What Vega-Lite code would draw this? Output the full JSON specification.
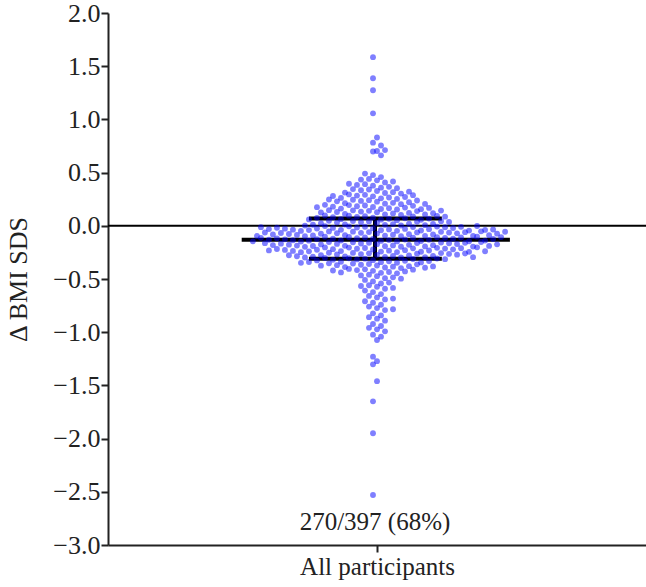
{
  "$schema": "https://vega.github.io/schema/vega-lite/v6.json",
  "width": 538,
  "height": 532,
  "autosize": "none",
  "padding": {"left": 108, "top": 13, "right": 0, "bottom": 42},
  "background": "white",
  "config": {"view": {"stroke": null}, "font": "Liberation Serif"},
  "datasets": {
    "points": [
      {"v":1.585},{"v":1.387},{"v":1.274},{"v":1.057},{"v":0.830},{"v":0.781},{"v":0.755},{"v":0.703},{"v":0.698},{"v":0.712},{"v":0.662},
      {"v":0.477},{"v":0.458},{"v":0.491},
      {"v":0.427},{"v":0.408},{"v":0.441},{"v":0.416},{"v":0.434},
      {"v":0.377},{"v":0.358},{"v":0.391},{"v":0.366},{"v":0.384},{"v":0.353},{"v":0.395},
      {"v":0.327},{"v":0.308},{"v":0.341},{"v":0.316},{"v":0.334},{"v":0.303},{"v":0.345},{"v":0.321},{"v":0.312},
      {"v":0.277},{"v":0.258},{"v":0.291},{"v":0.266},{"v":0.284},{"v":0.253},{"v":0.295},{"v":0.271},{"v":0.262},{"v":0.288},{"v":0.280},
      {"v":0.227},{"v":0.208},{"v":0.241},{"v":0.216},{"v":0.234},{"v":0.203},{"v":0.245},{"v":0.221},{"v":0.212},{"v":0.238},{"v":0.230},{"v":0.206},{"v":0.247},
      {"v":0.177},{"v":0.158},{"v":0.191},{"v":0.166},{"v":0.184},{"v":0.153},{"v":0.195},{"v":0.171},{"v":0.162},{"v":0.188},{"v":0.180},{"v":0.156},{"v":0.197},{"v":0.168},{"v":0.175},
      {"v":0.127},{"v":0.108},{"v":0.141},{"v":0.116},{"v":0.134},{"v":0.103},{"v":0.145},{"v":0.121},{"v":0.112},{"v":0.138},{"v":0.130},{"v":0.106},{"v":0.147},{"v":0.118},{"v":0.125},{"v":0.143},
      {"v":0.077},{"v":0.058},{"v":0.091},{"v":0.066},{"v":0.084},{"v":0.053},{"v":0.095},{"v":0.071},{"v":0.062},{"v":0.088},{"v":0.080},{"v":0.056},{"v":0.097},{"v":0.068},{"v":0.075},{"v":0.093},{"v":0.060},{"v":0.086},
      {"v":0.027},{"v":0.008},{"v":0.041},{"v":0.016},{"v":0.034},{"v":0.003},{"v":0.045},{"v":0.021},{"v":0.012},{"v":0.038},{"v":0.030},{"v":0.006},{"v":0.047},{"v":0.018},{"v":0.025},{"v":0.043},{"v":0.010},{"v":0.036},{"v":0.002},
      {"v":-0.023},{"v":-0.042},{"v":-0.009},{"v":-0.034},{"v":-0.016},{"v":-0.047},{"v":-0.005},{"v":-0.029},{"v":-0.038},{"v":-0.012},{"v":-0.020},{"v":-0.044},{"v":-0.003},{"v":-0.032},{"v":-0.025},{"v":-0.007},{"v":-0.040},{"v":-0.014},{"v":-0.048},{"v":-0.021},{"v":-0.036},{"v":-0.010},{"v":-0.027},{"v":-0.045},{"v":-0.018},{"v":-0.002},{"v":-0.031},{"v":-0.039},{"v":-0.013},{"v":-0.035},
      {"v":-0.073},{"v":-0.092},{"v":-0.059},{"v":-0.084},{"v":-0.066},{"v":-0.097},{"v":-0.055},{"v":-0.079},{"v":-0.088},{"v":-0.062},{"v":-0.070},{"v":-0.094},{"v":-0.053},{"v":-0.082},{"v":-0.075},{"v":-0.057},{"v":-0.090},{"v":-0.064},{"v":-0.098},{"v":-0.071},{"v":-0.086},{"v":-0.060},{"v":-0.077},{"v":-0.095},{"v":-0.068},{"v":-0.052},{"v":-0.081},{"v":-0.089},{"v":-0.063},{"v":-0.074},{"v":-0.096},{"v":-0.056},
      {"v":-0.123},{"v":-0.142},{"v":-0.109},{"v":-0.134},{"v":-0.116},{"v":-0.147},{"v":-0.105},{"v":-0.129},{"v":-0.138},{"v":-0.112},{"v":-0.120},{"v":-0.144},{"v":-0.103},{"v":-0.132},{"v":-0.125},{"v":-0.107},{"v":-0.140},{"v":-0.114},{"v":-0.148},{"v":-0.121},{"v":-0.136},{"v":-0.110},{"v":-0.127},{"v":-0.145},{"v":-0.118},{"v":-0.102},{"v":-0.131},{"v":-0.139},{"v":-0.113},{"v":-0.124},{"v":-0.146},{"v":-0.106},
      {"v":-0.173},{"v":-0.192},{"v":-0.159},{"v":-0.184},{"v":-0.166},{"v":-0.197},{"v":-0.155},{"v":-0.179},{"v":-0.188},{"v":-0.162},{"v":-0.170},{"v":-0.194},{"v":-0.153},{"v":-0.182},{"v":-0.175},{"v":-0.157},{"v":-0.190},{"v":-0.164},{"v":-0.198},{"v":-0.171},{"v":-0.186},{"v":-0.160},{"v":-0.177},{"v":-0.195},{"v":-0.168},{"v":-0.152},{"v":-0.181},{"v":-0.189},{"v":-0.163},{"v":-0.174},
      {"v":-0.223},{"v":-0.242},{"v":-0.209},{"v":-0.234},{"v":-0.216},{"v":-0.247},{"v":-0.205},{"v":-0.229},{"v":-0.238},{"v":-0.212},{"v":-0.220},{"v":-0.244},{"v":-0.203},{"v":-0.232},{"v":-0.225},{"v":-0.207},{"v":-0.240},{"v":-0.214},{"v":-0.248},{"v":-0.221},{"v":-0.236},{"v":-0.210},{"v":-0.227},{"v":-0.245},{"v":-0.218},{"v":-0.202},{"v":-0.231},{"v":-0.239},
      {"v":-0.273},{"v":-0.292},{"v":-0.259},{"v":-0.284},{"v":-0.266},{"v":-0.297},{"v":-0.255},{"v":-0.279},{"v":-0.288},{"v":-0.262},{"v":-0.270},{"v":-0.294},{"v":-0.253},{"v":-0.282},{"v":-0.275},{"v":-0.257},{"v":-0.290},{"v":-0.264},{"v":-0.298},{"v":-0.271},{"v":-0.286},{"v":-0.260},{"v":-0.277},{"v":-0.295},
      {"v":-0.323},{"v":-0.342},{"v":-0.309},{"v":-0.334},{"v":-0.316},{"v":-0.347},{"v":-0.305},{"v":-0.329},{"v":-0.338},{"v":-0.312},{"v":-0.320},{"v":-0.344},{"v":-0.303},{"v":-0.332},{"v":-0.325},{"v":-0.307},{"v":-0.340},{"v":-0.314},{"v":-0.348},
      {"v":-0.373},{"v":-0.392},{"v":-0.359},{"v":-0.384},{"v":-0.366},{"v":-0.397},{"v":-0.355},{"v":-0.379},{"v":-0.388},{"v":-0.362},{"v":-0.370},{"v":-0.394},{"v":-0.353},{"v":-0.382},{"v":-0.375},
      {"v":-0.423},{"v":-0.442},{"v":-0.409},{"v":-0.434},{"v":-0.416},{"v":-0.447},{"v":-0.405},{"v":-0.429},{"v":-0.438},{"v":-0.412},{"v":-0.420},
      {"v":-0.473},{"v":-0.492},{"v":-0.459},{"v":-0.484},{"v":-0.466},{"v":-0.497},
      {"v":-0.523},{"v":-0.542},{"v":-0.509},{"v":-0.534},
      {"v":-0.573},{"v":-0.592},{"v":-0.559},{"v":-0.584},{"v":-0.566},
      {"v":-0.623},{"v":-0.642},{"v":-0.609},
      {"v":-0.673},{"v":-0.692},{"v":-0.659},{"v":-0.684},
      {"v":-0.723},{"v":-0.742},{"v":-0.709},
      {"v":-0.773},{"v":-0.792},{"v":-0.759},{"v":-0.784},
      {"v":-0.823},{"v":-0.842},
      {"v":-0.873},{"v":-0.892},{"v":-0.859},
      {"v":-0.923},{"v":-0.942},
      {"v":-0.973},{"v":-0.992},{"v":-0.959},
      {"v":-1.023},{"v":-1.042},
      {"v":-1.073},
      {"v":-1.23},{"v":-1.272},{"v":-1.302},{"v":-1.46},{"v":-1.65},{"v":-1.95},{"v":-2.53}
    ],
    "summary": [
      {"stat": "q3", "v": 0.068},
      {"stat": "median", "v": -0.13},
      {"stat": "q1", "v": -0.31}
    ]
  },
  "encoding": {
    "y": {
      "type": "quantitative",
      "scale": {"domain": [-3, 2], "nice": false, "zero": false},
      "axis": {
        "values": [2, 1.5, 1, 0.5, 0, -0.5, -1, -1.5, -2, -2.5, -3],
        "format": ".1f",
        "title": "Δ BMI SDS",
        "grid": false,
        "domainColor": "#222222",
        "domainWidth": 2,
        "tickColor": "#222222",
        "tickWidth": 2,
        "tickSize": 7,
        "labelFont": "Liberation Serif",
        "labelFontSize": 26,
        "labelColor": "#222222",
        "labelPadding": 1,
        "titleFont": "Liberation Serif",
        "titleFontSize": 26,
        "titleFontWeight": "normal",
        "titleColor": "#222222",
        "titlePadding": 21
      }
    }
  },
  "layer": [
    {
      "data": {"values": [{}]},
      "mark": {"type": "rule", "color": "black", "strokeWidth": 2},
      "encoding": {"y": {"datum": 0, "type": "quantitative"}}
    },
    {
      "data": {"name": "summary"},
      "transform": [{"filter": "datum.stat == 'median'"}],
      "mark": {"type": "rule", "color": "black", "strokeWidth": 4},
      "encoding": {
        "y": {"field": "v", "type": "quantitative"},
        "x": {"datum": -16.9, "type": "quantitative"},
        "x2": {"datum": 16.6}
      }
    },
    {
      "data": {"name": "summary"},
      "transform": [{"filter": "datum.stat != 'median'"}],
      "mark": {"type": "rule", "color": "black", "strokeWidth": 4},
      "encoding": {
        "y": {"field": "v", "type": "quantitative"},
        "x": {"datum": -8.5, "type": "quantitative"},
        "x2": {"datum": 8.1}
      }
    },
    {
      "data": {"name": "summary"},
      "mark": {"type": "rule", "color": "black", "strokeWidth": 4},
      "encoding": {
        "y": {"aggregate": "max", "field": "v", "type": "quantitative"},
        "y2": {"aggregate": "min", "field": "v"},
        "x": {"datum": -0.25, "type": "quantitative"}
      }
    },
    {
      "data": {"name": "points"},
      "transform": [
        {"bin": {"step": 0.05, "extent": [-3, 2]}, "field": "v", "as": "b"},
        {"window": [{"op": "row_number", "as": "rn"}], "groupby": ["b"]},
        {"calculate": "abs(round(datum.b / 0.05)) % 2 == 1 ? (datum.rn % 2 == 0 ? 1 : -1) * (ceil(datum.rn / 2) - 0.5) : (datum.rn % 2 == 0 ? 1 : -1) * floor(datum.rn / 2)", "as": "off"}
      ],
      "mark": {"type": "circle", "size": 34, "color": "#0000ff", "opacity": 0.5},
      "encoding": {
        "y": {"field": "v", "type": "quantitative"},
        "x": {
          "field": "off",
          "type": "quantitative",
          "scale": {"domain": [-33.6, 33.6], "nice": false, "zero": false},
          "axis": {
            "values": [0],
            "labelExpr": "'All participants'",
            "title": null,
            "grid": false,
            "domainColor": "#222222",
            "domainWidth": 2,
            "tickColor": "#222222",
            "tickWidth": 2,
            "tickSize": 7,
            "labelFont": "Liberation Serif",
            "labelFontSize": 25,
            "labelColor": "#222222",
            "labelPadding": 2,
            "labelFlush": false
          }
        }
      }
    },
    {
      "data": {"values": [{}]},
      "mark": {"type": "text", "font": "Liberation Serif", "fontSize": 25, "color": "#222222", "baseline": "middle", "align": "center"},
      "encoding": {
        "y": {"datum": -2.78, "type": "quantitative"},
        "x": {"datum": -0.25, "type": "quantitative"},
        "text": {"value": "270/397 (68%)"}
      }
    }
  ]
}
